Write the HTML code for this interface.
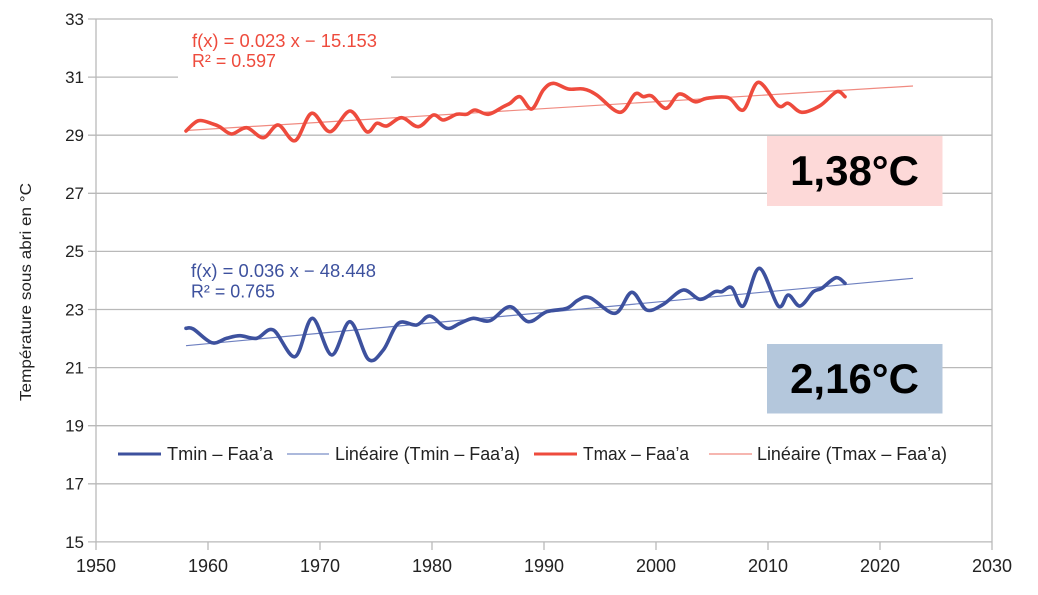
<!DOCTYPE html>
<html><head><meta charset="utf-8">
<style>
html,body{margin:0;padding:0;background:#fff;}
svg{display:block;font-family:"Liberation Sans",sans-serif;}
</style></head>
<body>
<svg id="c" width="1038" height="595" viewBox="0 0 1038 595" xmlns="http://www.w3.org/2000/svg">
<rect width="1038" height="595" fill="#fff"/>
<!-- gridlines -->
<g stroke="#b9b9b9" stroke-width="1.3">
<line x1="88" y1="19" x2="992" y2="19"/>
<line x1="88" y1="77.1" x2="992" y2="77.1"/>
<line x1="88" y1="135.2" x2="992" y2="135.2"/>
<line x1="88" y1="193.3" x2="992" y2="193.3"/>
<line x1="88" y1="251.4" x2="992" y2="251.4"/>
<line x1="88" y1="309.5" x2="992" y2="309.5"/>
<line x1="88" y1="367.6" x2="992" y2="367.6"/>
<line x1="88" y1="425.7" x2="992" y2="425.7"/>
<line x1="88" y1="483.8" x2="992" y2="483.8"/>
<line x1="88" y1="541.9" x2="992" y2="541.9"/>
<line x1="96" y1="19" x2="96" y2="550"/>
<line x1="992" y1="19" x2="992" y2="550"/>
<line x1="208" y1="542" x2="208" y2="550"/>
<line x1="320" y1="542" x2="320" y2="550"/>
<line x1="432" y1="542" x2="432" y2="550"/>
<line x1="544" y1="542" x2="544" y2="550"/>
<line x1="656" y1="542" x2="656" y2="550"/>
<line x1="768" y1="542" x2="768" y2="550"/>
<line x1="880" y1="542" x2="880" y2="550"/>
</g>
<!-- y tick labels -->
<g font-size="17" fill="#222" text-anchor="end">
<text x="84" y="25">33</text>
<text x="84" y="83">31</text>
<text x="84" y="141">29</text>
<text x="84" y="199">27</text>
<text x="84" y="257">25</text>
<text x="84" y="315.5">23</text>
<text x="84" y="373.5">21</text>
<text x="84" y="431.5">19</text>
<text x="84" y="489.5">17</text>
<text x="84" y="548">15</text>
</g>
<!-- x tick labels -->
<g font-size="18" fill="#222" text-anchor="middle">
<text x="96" y="572">1950</text>
<text x="208" y="572">1960</text>
<text x="320" y="572">1970</text>
<text x="432" y="572">1980</text>
<text x="544" y="572">1990</text>
<text x="656" y="572">2000</text>
<text x="768" y="572">2010</text>
<text x="880" y="572">2020</text>
<text x="992" y="572">2030</text>
</g>
<!-- y axis title -->
<text transform="translate(31,292) rotate(-90)" font-size="16" fill="#222" text-anchor="middle" textLength="218" lengthAdjust="spacingAndGlyphs">Température sous abri en °C</text>

<!-- white box behind red equation -->
<rect x="178" y="24" width="213" height="58" fill="#fff"/>

<!-- trend lines -->
<line x1="186" y1="130.5" x2="913" y2="86" stroke="#f08a80" stroke-width="1.2"/>
<line x1="186" y1="345.7" x2="913" y2="278.3" stroke="#6e80c0" stroke-width="1.2"/>

<!-- data series -->
<path id="tmax" fill="none" stroke="#ee4b3d" stroke-width="3.6" stroke-linejoin="round" stroke-linecap="round" d=""/>
<path id="tmin" fill="none" stroke="#3d519e" stroke-width="3.6" stroke-linejoin="round" stroke-linecap="round" d=""/>

<!-- equations -->
<text x="192" y="47" font-size="18" fill="#ee4b3d" textLength="185" lengthAdjust="spacingAndGlyphs">f(x) = 0.023 x − 15.153</text>
<text x="192" y="67" font-size="18" fill="#ee4b3d" textLength="84" lengthAdjust="spacingAndGlyphs">R² = 0.597</text>
<text x="191" y="277" font-size="18" fill="#3d519e" textLength="185" lengthAdjust="spacingAndGlyphs">f(x) = 0.036 x − 48.448</text>
<text x="191" y="297.5" font-size="18" fill="#3d519e" textLength="84" lengthAdjust="spacingAndGlyphs">R² = 0.765</text>

<!-- annotation boxes -->
<rect x="767" y="136" width="175.5" height="70" fill="#fdd9d8"/>
<text x="854.5" y="185" font-size="42" font-weight="bold" fill="#000" text-anchor="middle">1,38°C</text>
<rect x="767" y="344" width="175.5" height="69.5" fill="#b4c7dc"/>
<text x="854.5" y="393" font-size="42" font-weight="bold" fill="#000" text-anchor="middle">2,16°C</text>

<!-- legend -->
<line x1="118" y1="454" x2="161" y2="454" stroke="#3d519e" stroke-width="3"/>
<text x="167" y="460" font-size="18" fill="#222" textLength="106" lengthAdjust="spacingAndGlyphs">Tmin – Faa’a</text>
<line x1="287" y1="454" x2="329" y2="454" stroke="#7b8fc8" stroke-width="1.2"/>
<text x="335" y="460" font-size="18" fill="#222" textLength="185" lengthAdjust="spacingAndGlyphs">Linéaire (Tmin – Faa’a)</text>
<line x1="534" y1="454" x2="577" y2="454" stroke="#ee4b3d" stroke-width="3"/>
<text x="583" y="460" font-size="18" fill="#222" textLength="106" lengthAdjust="spacingAndGlyphs">Tmax – Faa’a</text>
<line x1="709" y1="454" x2="752" y2="454" stroke="#f08a80" stroke-width="1.2"/>
<text x="757" y="460" font-size="18" fill="#222" textLength="190" lengthAdjust="spacingAndGlyphs">Linéaire (Tmax – Faa’a)</text>
</svg>
<script>
(function(){
var tmax=[186,131,198.3,120.7,213,124,220,127,231.7,134,246.7,127.7,263.3,137.7,278.3,125,295,140.7,311.7,113.3,330,131.7,350,111,366.7,131.7,376.7,123.3,386.7,126,401.7,117.7,418.3,126.7,433.3,115,443.3,120,456.7,114.3,466.7,114.3,475,110,488.3,114.3,503.3,106.7,510,103.3,520,96.7,531.7,109,543.3,90,553.3,83.3,568.3,89,583.3,89,596.7,95,620,112.3,635,94,643.3,96.7,651.7,96,666,108.3,679.3,94,695,101.7,706.7,98.3,728.3,97.7,743.3,110,758.3,82.3,778.3,105.7,788.3,103.3,801.7,112.3,820,105.7,836.7,91.7,845,96.7];
var tmin=[186,328.3,193.3,329,211.7,342.7,226.7,338.3,240,335.7,256.7,338.3,273.3,330,295,356.7,312.3,318.3,331.7,355,350,321.7,368.3,359.3,383.3,350,398.3,323.3,416.7,325,430,316,446.7,328.3,460,323.3,473.3,318.3,490,320.7,510,306.7,528.3,321.7,546.7,311.7,566.7,308.3,578.3,300,590,297.7,615,313.3,631.7,292.3,646.7,310,663.3,304.3,683.3,290,700,299.3,715,291.7,721.7,291.7,731.7,287.7,743.3,306,759.3,268.3,778.3,306,788.3,295,800,306,813.3,291.7,821.7,288.3,836,277.7,845,283.3];
function pts(a){var p=[];for(var i=0;i<a.length;i+=2)p.push([a[i],a[i+1]]);return p;}
function cr(a){var p=pts(a),n=p.length,d="M"+p[0][0]+","+p[0][1];
for(var i=0;i<n-1;i++){var p0=p[i>0?i-1:i],p1=p[i],p2=p[i+1],p3=p[i+2<n?i+2:i+1];
var c1x=p1[0]+(p2[0]-p0[0])/6,c1y=p1[1]+(p2[1]-p0[1])/6,c2x=p2[0]-(p3[0]-p1[0])/6,c2y=p2[1]-(p3[1]-p1[1])/6;
d+=" C"+c1x.toFixed(1)+","+c1y.toFixed(1)+" "+c2x.toFixed(1)+","+c2y.toFixed(1)+" "+p2[0]+","+p2[1];}
return d;}
document.getElementById("tmax").setAttribute("d",cr(tmax));
document.getElementById("tmin").setAttribute("d",cr(tmin));
})();
</script>
</body></html>
